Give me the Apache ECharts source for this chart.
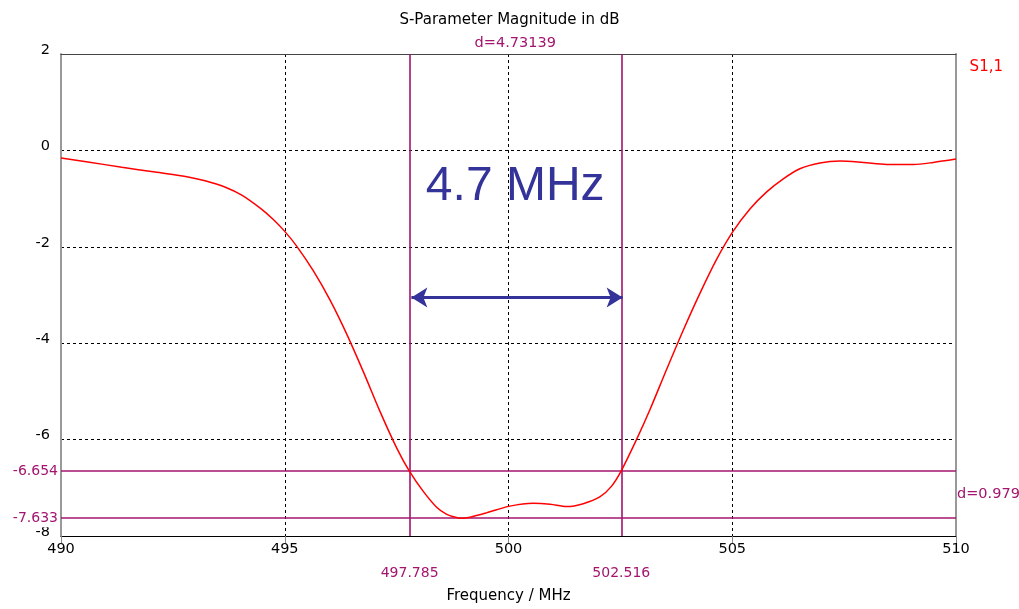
<!DOCTYPE html>
<html><head><meta charset="utf-8">
<script src="https://cdn.jsdelivr.net/npm/echarts@6/dist/echarts.min.js"></script>
<style>html,body{margin:0;padding:0;background:#fff}#c{width:1019px;height:609px}</style>
</head><body><div id="c"></div>
<script>
var freqs = [490.0, 490.6, 491.36, 492.1, 492.84, 493.22, 493.66, 494.04, 494.48, 494.75, 495.0, 495.27, 495.64, 496.01, 496.38, 496.76, 497.13, 497.5, 497.785, 498.1, 498.4, 498.6, 498.77, 498.96, 499.14, 499.51, 500.03, 500.55, 500.93, 501.3, 501.67, 502.04, 502.3, 502.516, 502.86, 503.16, 503.53, 503.91, 504.28, 504.65, 505.01, 505.4, 505.77, 506.14, 506.51, 506.96, 507.41, 507.93, 508.45, 509.05, 509.49, 510.0];
var s11 = [-0.16, -0.24, -0.35, -0.45, -0.55, -0.63, -0.76, -0.93, -1.22, -1.44, -1.68, -1.99, -2.50, -3.10, -3.80, -4.60, -5.42, -6.17, -6.654, -7.08, -7.41, -7.54, -7.60, -7.633, -7.61, -7.52, -7.38, -7.32, -7.34, -7.39, -7.33, -7.19, -6.97, -6.654, -6.0, -5.38, -4.55, -3.72, -2.96, -2.26, -1.69, -1.21, -0.86, -0.59, -0.38, -0.26, -0.22, -0.25, -0.29, -0.29, -0.25, -0.18];
var markerX = [497.785, 502.516];
var markerY = [-6.654, -7.633];
var deltaX = 'd=4.73139';
var deltaY = 'd=0.979';
var annotText = '4.7 MHz';
var annotPos = [500.15, -0.76];
var arrowY = -3.05;
var arrowX = [497.83, 502.55];
var xTicks = {min: 490, max: 510, interval: 5};
var yTicks = {min: -8, max: 2, interval: 2};

var purple = '#a3146e';
var font = 'DejaVu Sans';
var chart = echarts.init(document.getElementById('c'), null, {renderer: 'canvas'});
chart.setOption({
  animation: false,
  backgroundColor: '#fff',
  textStyle: {fontFamily: font},
  title: {text: 'S-Parameter Magnitude in dB', left: 'center', top: 8,
    textStyle: {fontFamily: font, fontSize: 15, fontWeight: 'normal', color: '#000'}},
  legend: {right: 11, top: 55, icon: 'none', itemWidth: 0, itemGap: 0,
    textStyle: {color: '#ff0000', fontSize: 15, fontFamily: font}, data: ['S1,1']},
  grid: {left: 61, right: 63, top: 54, bottom: 73, containLabel: false},
  xAxis: [{
    type: 'value', min: xTicks.min, max: xTicks.max, interval: xTicks.interval,
    name: 'Frequency / MHz', nameLocation: 'middle', nameGap: 53,
    nameTextStyle: {fontSize: 15, color: '#000', fontFamily: font},
    axisLine: {show: true, onZero: false, lineStyle: {color: '#000', width: 1}},
    axisTick: {show: true, length: 7, lineStyle: {color: '#888'}},
    axisLabel: {fontSize: 14.5, color: '#000', margin: 6, fontFamily: font},
    splitLine: {show: true, lineStyle: {color: '#000', type: [3, 3], width: 1}}
  }, {
    type: 'value', position: 'top', min: xTicks.min, max: xTicks.max,
    axisLine: {show: true, onZero: false, lineStyle: {color: '#444', width: 1}},
    axisTick: {show: false}, axisLabel: {show: false}, splitLine: {show: false}
  }],
  yAxis: [{
    type: 'value', min: yTicks.min, max: yTicks.max, interval: yTicks.interval,
    axisLine: {show: true, onZero: false, lineStyle: {color: '#999', width: 2}},
    axisTick: {show: false},
    axisLabel: {fontSize: 14.5, color: '#000', margin: 11, verticalAlign: 'bottom', lineHeight: 8, fontFamily: font},
    splitLine: {show: true, lineStyle: {color: '#000', type: [3, 3], width: 1}}
  }, {
    type: 'value', position: 'right', min: yTicks.min, max: yTicks.max,
    axisLine: {show: true, onZero: false, lineStyle: {color: '#999', width: 2}},
    axisTick: {show: false}, axisLabel: {show: false}, splitLine: {show: false}
  }],
  series: [{
    name: 'S1,1', type: 'line', xAxisIndex: 0, yAxisIndex: 0,
    data: freqs.map(function (f, i) { return [f, s11[i]]; }),
    smooth: 0.3, showSymbol: false, symbol: 'none',
    lineStyle: {color: '#ff0000', width: 1.5}, itemStyle: {color: '#ff0000'},
    z: 5,
    markLine: {
      silent: true, symbol: 'none', animation: false,
      lineStyle: {color: purple, width: 1.6, type: 'solid'},
      label: {color: purple, fontSize: 14, fontFamily: font},
      data: [
        {xAxis: markerX[0], label: {position: 'start', distance: 30, formatter: markerX[0].toFixed(3)}},
        {xAxis: markerX[1], label: {position: 'start', distance: 30, formatter: markerX[1].toFixed(3)}},
        {yAxis: markerY[0], label: {position: 'start', distance: 3, formatter: markerY[0].toFixed(3)}},
        {yAxis: markerY[1], label: {position: 'start', distance: 3, formatter: markerY[1].toFixed(3), backgroundColor: '#fff', padding: [0, 0, 4, 0]}},
        [{coord: [arrowX[0], arrowY], symbol: 'arrow', symbolSize: [15, 16],
          lineStyle: {color: '#333399', width: 3}, label: {show: false}},
         {coord: [arrowX[1], arrowY], symbol: 'arrow', symbolSize: [15, 16]}]
      ]
    },
    markArea: {
      silent: true,
      itemStyle: {color: 'rgba(0,0,0,0)'},
      label: {color: purple, fontSize: 14.5, fontFamily: font},
      data: [
        [{xAxis: markerX[0], yAxis: yTicks.max, label: {position: 'top', distance: 3, formatter: deltaX}},
         {xAxis: markerX[1], yAxis: yTicks.min}],
        [{xAxis: xTicks.min, yAxis: markerY[0], label: {position: 'right', distance: 1, formatter: deltaY}},
         {xAxis: xTicks.max, yAxis: markerY[1]}]
      ]
    },
    markPoint: {
      silent: true, symbol: 'circle', symbolSize: 0,
      data: [{coord: annotPos, label: {show: true, position: 'inside', formatter: annotText,
        color: '#333399', fontSize: 48, fontFamily: 'Liberation Sans'}}]
    }
  }]
});
</script></body></html>
